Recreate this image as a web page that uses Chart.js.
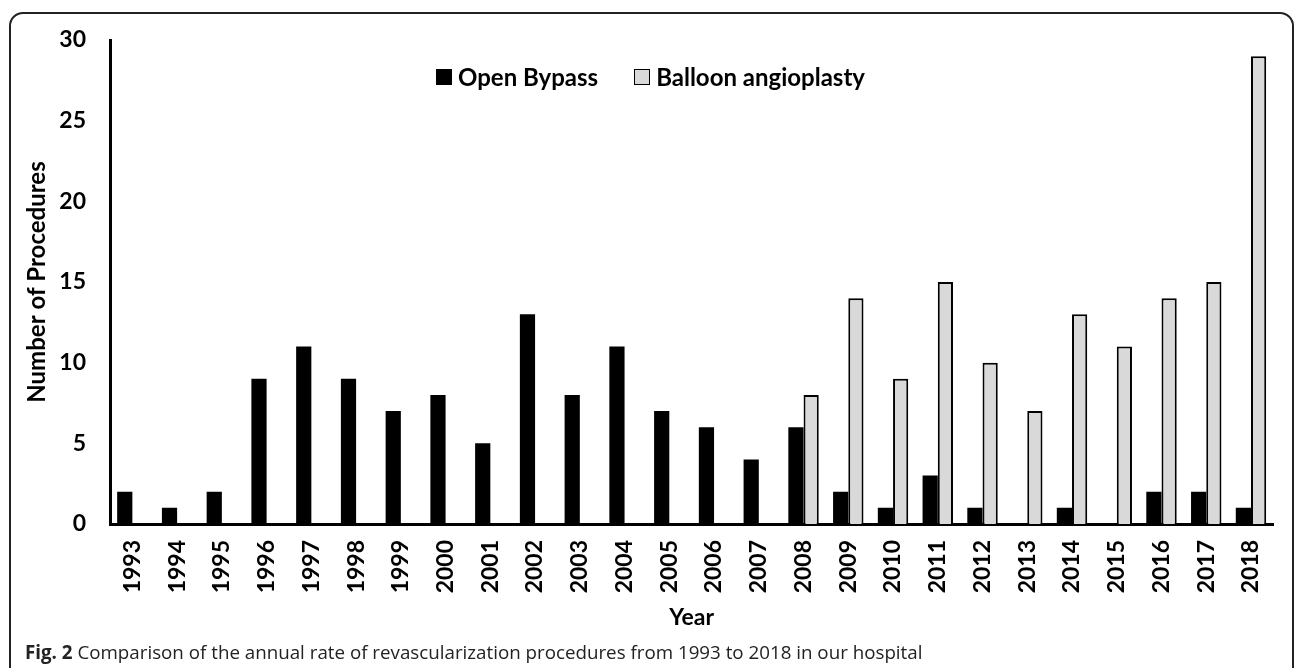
<!DOCTYPE html>
<html>
<head>
<meta charset="utf-8">
<script src="https://cdn.jsdelivr.net/npm/chart.js@4"></script>
<style>
  html, body { margin: 0; padding: 0; background: #fff; }
  body { width: 1295px; height: 668px; position: relative; overflow: hidden; }
  #frame {
    position: absolute; left: 9px; top: 12px; width: 1285px; height: 720px;
    box-sizing: border-box; border: 2px solid #222; border-radius: 14px;
    pointer-events: none;
  }
  #wrap { position: absolute; left: 0; top: 0; width: 1295px; height: 640px; }
  #legend {
    position: absolute; top: 62px; left: 436px; display: flex; align-items: center;
    font-family: Lato, sans-serif; font-weight: bold; font-size: 24px; color: #000;
  }
  #legend .item { display: flex; align-items: center; margin-right: 36px; }
  #legend .box { width: 14px; height: 14px; margin-right: 6px; border: 1.5px solid #000; }
  #caption {
    position: absolute; left: 25px; top: 639px; white-space: nowrap;
    font-family: "Open Sans", sans-serif; font-size: 18.75px; color: #222;
  }
</style>
</head>
<body>
<div id="wrap"><canvas id="chart" width="1295" height="640"></canvas></div>
<div id="legend"></div>
<div id="frame"></div>
<div id="caption"><b>Fig. 2</b> Comparison of the annual rate of revascularization procedures from 1993 to 2018 in our hospital</div>

<script>
// Data
const years = ['1993', '1994', '1995', '1996', '1997', '1998', '1999', '2000', '2001', '2002',
  '2003', '2004', '2005', '2006', '2007', '2008', '2009', '2010', '2011', '2012',
  '2013', '2014', '2015', '2016', '2017', '2018'];
const openBypass = [2, 1, 2, 9, 11, 9, 7, 8, 5, 13, 8, 11, 7, 6, 4, 6, 2, 1, 3, 1, 0, 1, 0, 2, 2, 1];
const balloon = [0, 0, 0, 0, 0, 0, 0, 0, 0, 0, 0, 0, 0, 0, 0, 8, 14, 9, 15, 10, 7, 13, 11, 14, 15, 29];
const yTicks = [0, 5, 10, 15, 20, 25, 30];

Chart.defaults.font.family = 'Lato, sans-serif';
Chart.defaults.font.weight = 'bold';
Chart.defaults.color = '#000';

const ctx = document.getElementById('chart').getContext('2d');
const chart = new Chart(ctx, {
    type: 'bar',
    data: {
        labels: years,
        datasets: [
            {
                label: 'Open Bypass',
                data: openBypass,
                backgroundColor: '#000',
                borderColor: '#000',
                borderWidth: 0,
                categoryPercentage: 0.68,
                barPercentage: 1.0
            },
            {
                label: 'Balloon angioplasty',
                data: balloon,
                backgroundColor: '#d9d9d9',
                borderColor: '#000',
                borderWidth: 2,
                categoryPercentage: 0.68,
                barPercentage: 1.0
            }
        ]
    },
    options: {
        responsive: false,
        animation: false,
        layout: { padding: { top: 40, right: 21, left: 0, bottom: 0 } },
        plugins: {
            legend: { display: false },
            tooltip: { enabled: false }
        },
        scales: {
            x: {
                grid: { display: false, drawTicks: false },
                border: { display: true, color: '#000', width: 3 },
                ticks: {
                    minRotation: 90,
                    maxRotation: 90,
                    padding: 16,
                    font: { size: 23, weight: 'bold' }
                },
                title: {
                    display: true,
                    text: 'Year',
                    font: { size: 23, weight: 'bold' },
                    padding: { top: 0, bottom: 9 }
                },
                afterFit: (axis) => { axis.height = 116; }
            },
            y: {
                min: 0,
                max: 30,
                grid: { display: false, drawTicks: false },
                border: { display: true, color: '#000', width: 3 },
                afterBuildTicks: (axis) => { axis.ticks = yTicks.map(v => ({ value: v })); },
                ticks: {
                    padding: 24,
                    font: { size: 23, weight: 'bold' }
                },
                title: {
                    display: true,
                    text: 'Number of Procedures',
                    font: { size: 24, weight: 'bold' },
                    padding: { top: 23, bottom: 0 }
                },
                afterFit: (axis) => { axis.width = 110; }
            }
        }
    }
});

// HTML legend built from the chart's datasets
const legendEl = document.getElementById('legend');
chart.data.datasets.forEach(ds => {
    const item = document.createElement('div');
    item.className = 'item';
    const box = document.createElement('span');
    box.className = 'box';
    box.style.background = ds.backgroundColor;
    const txt = document.createElement('span');
    txt.textContent = ds.label;
    item.appendChild(box);
    item.appendChild(txt);
    legendEl.appendChild(item);
});
</script>
</body>
</html>
